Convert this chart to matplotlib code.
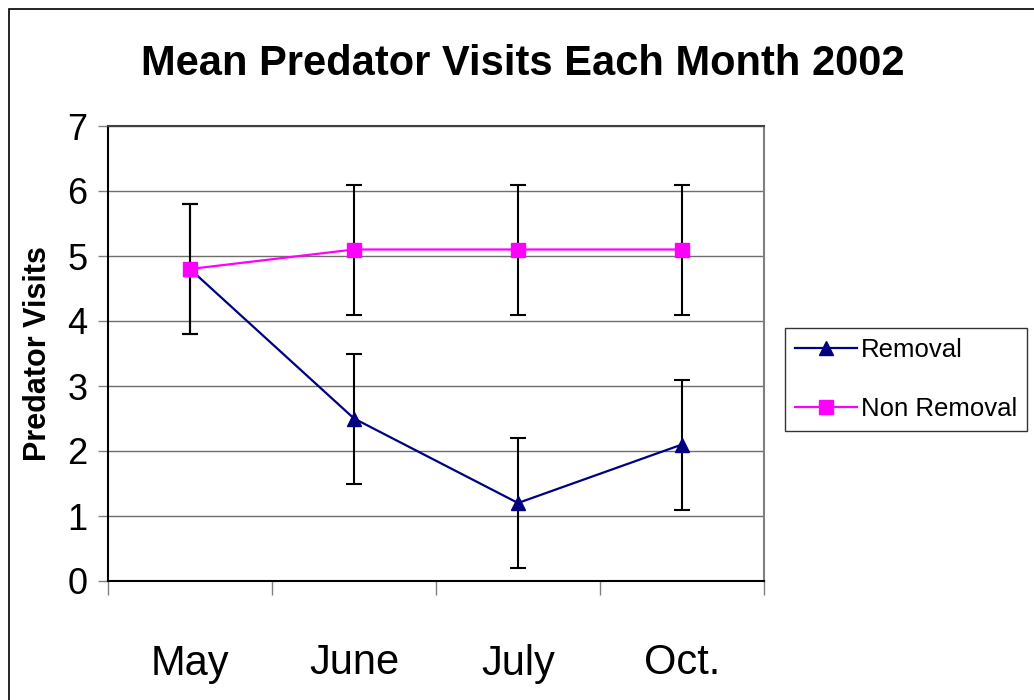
import matplotlib
matplotlib.use("Agg")
import matplotlib.pyplot as plt
from matplotlib.patches import Rectangle

months = ["May", "June", "July", "Oct."]
removal = [4.8, 2.5, 1.2, 2.1]
removal_err = [1.0, 1.0, 1.0, 1.0]
non_removal = [4.8, 5.1, 5.1, 5.1]
non_removal_err = [1.0, 1.0, 1.0, 1.0]
y_ticks = [0, 1, 2, 3, 4, 5, 6, 7]

plt.rcParams['font.family'] = ['Liberation Sans', 'DejaVu Sans']

fig = plt.figure(figsize=(10.34, 7.0), dpi=100)
ax = fig.add_axes([108/1034, 1 - 581/700, (764-108)/1034, (581-126)/700])

x = list(range(len(months)))

ax.errorbar(x, removal, yerr=removal_err, fmt='none', ecolor='black',
            elinewidth=1.5, capsize=6, capthick=1.5, zorder=3)
ax.errorbar(x, non_removal, yerr=non_removal_err, fmt='none', ecolor='black',
            elinewidth=1.5, capsize=6, capthick=1.5, zorder=3)
ax.plot(x, removal, color='#000080', lw=1.6, marker='^', markersize=10,
        label='Removal', zorder=4)
ax.plot(x, non_removal, color='#FF00FF', lw=1.6, marker='s', markersize=10,
        label='Non Removal', zorder=5)

ax.set_xlim(-0.5, len(months) - 0.5)
ax.set_ylim(0, 7)
ax.set_yticks(y_ticks)
ax.set_yticklabels([str(v) for v in y_ticks], fontsize=26)
ax.yaxis.grid(True, color='#6e6e6e', lw=1)
ax.set_axisbelow(True)

ax.set_xticks(x)
ax.set_xticklabels(months, fontsize=30)
ax.tick_params(axis='x', which='major', length=0, pad=45)
ax.set_xticks([i - 0.5 for i in range(len(months) + 1)], minor=True)
ax.tick_params(axis='x', which='minor', length=10, width=1, color='#808080', direction='out')
ax.tick_params(axis='y', length=7, width=1, color='#808080', pad=8)

ax.spines['left'].set_color('black')
ax.spines['bottom'].set_color('black')
ax.spines['top'].set_color('#404040')
ax.spines['right'].set_color('#808080')
for s in ax.spines.values():
    s.set_linewidth(1.5)

ax.set_ylabel('Predator Visits', fontsize=22, fontweight='bold', labelpad=10)

fig.text(523/1034, 1 - 64/700, 'Mean Predator Visits Each Month 2002',
         ha='center', va='center', fontsize=30, fontweight='bold')

leg = fig.legend(loc='upper left', bbox_to_anchor=(785/1034, 1 - 328/700),
                 fontsize=18.5, frameon=True, fancybox=False, edgecolor='black',
                 handlelength=2.4, handletextpad=0.15, borderpad=0.4,
                 labelspacing=1.35, borderaxespad=0)
leg.get_frame().set_linewidth(1)

fig.patches.append(Rectangle((9/1034, -0.1), 1.2, 1 - 9/700 + 0.1,
                             transform=fig.transFigure, fill=False,
                             edgecolor='black', lw=1.2, zorder=10))

fig.savefig('out.png', dpi=100, facecolor='white')
